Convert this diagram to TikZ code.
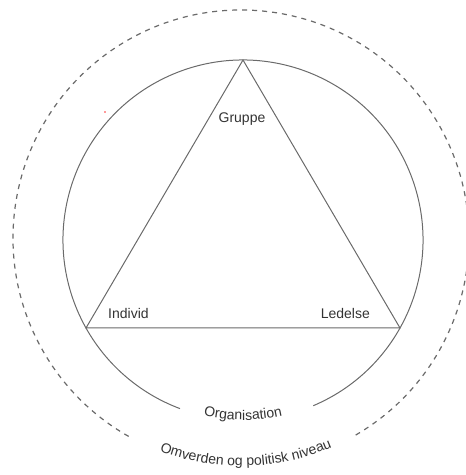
\documentclass[tikz,border=0pt]{standalone}
\usepackage{fontspec}
\setmainfont{Liberation Sans}
\usetikzlibrary{decorations.text}
\definecolor{linegray}{HTML}{6A6A6A}
\definecolor{txtgray}{HTML}{333333}
\tikzset{
  solidline/.style={draw=linegray, line width=1pt},
  dashline/.style={draw=linegray, line width=1.2pt, dash pattern=on 5pt off 5pt},
  lbl/.style={text=txtgray, font=\fontsize{14}{17}\selectfont, inner sep=0pt},
}
\begin{document}
\begin{tikzpicture}[x=1pt,y=1pt]
\useasboundingbox (0,0) rectangle (466,475);
% centres
\coordinate (ci) at (243,235);
\coordinate (co) at (241,237);
% outer dashed circle (with gap at bottom)
\draw[dashline] (co) ++(-59.8:228pt) arc[start angle=-59.8, end angle=240.8, radius=228pt];
% inner solid circle (with gap at bottom)
\draw[solidline] (ci) ++(-67:180pt) arc[start angle=-67, end angle=249.5, radius=180pt];
% triangle
\coordinate (G) at (243,415);
\coordinate (I) at (86,147);
\coordinate (L) at (400,147);
\draw[solidline, line join=miter] (G) -- (I) -- (L) -- cycle;
% labels
\node[lbl, anchor=base] (gruppe) at (242,352) {Gruppe};
\node[lbl, anchor=base west] (individ) at (108,156) {Individ};
\node[lbl, anchor=base east] (ledelse) at (370,156) {Ledelse};
% curved labels
\path[decorate, decoration={text along path, text align=center,
  text={|\fontsize{14}{17}\selectfont\color{txtgray}|Organisation}}]
  (ci) ++(225:180pt) arc[start angle=225, end angle=315, radius=180pt];
\path[decorate, decoration={text along path, text align=center,
  text={|\fontsize{14}{17}\selectfont\color{txtgray}|Omverden og politisk niveau}}]
  (co) ++(226.3:228pt) arc[start angle=226.3, end angle=316.3, radius=228pt];
% stray red dot
\fill[red!80] (105,363) circle[radius=0.9pt];
\end{tikzpicture}
\end{document}
